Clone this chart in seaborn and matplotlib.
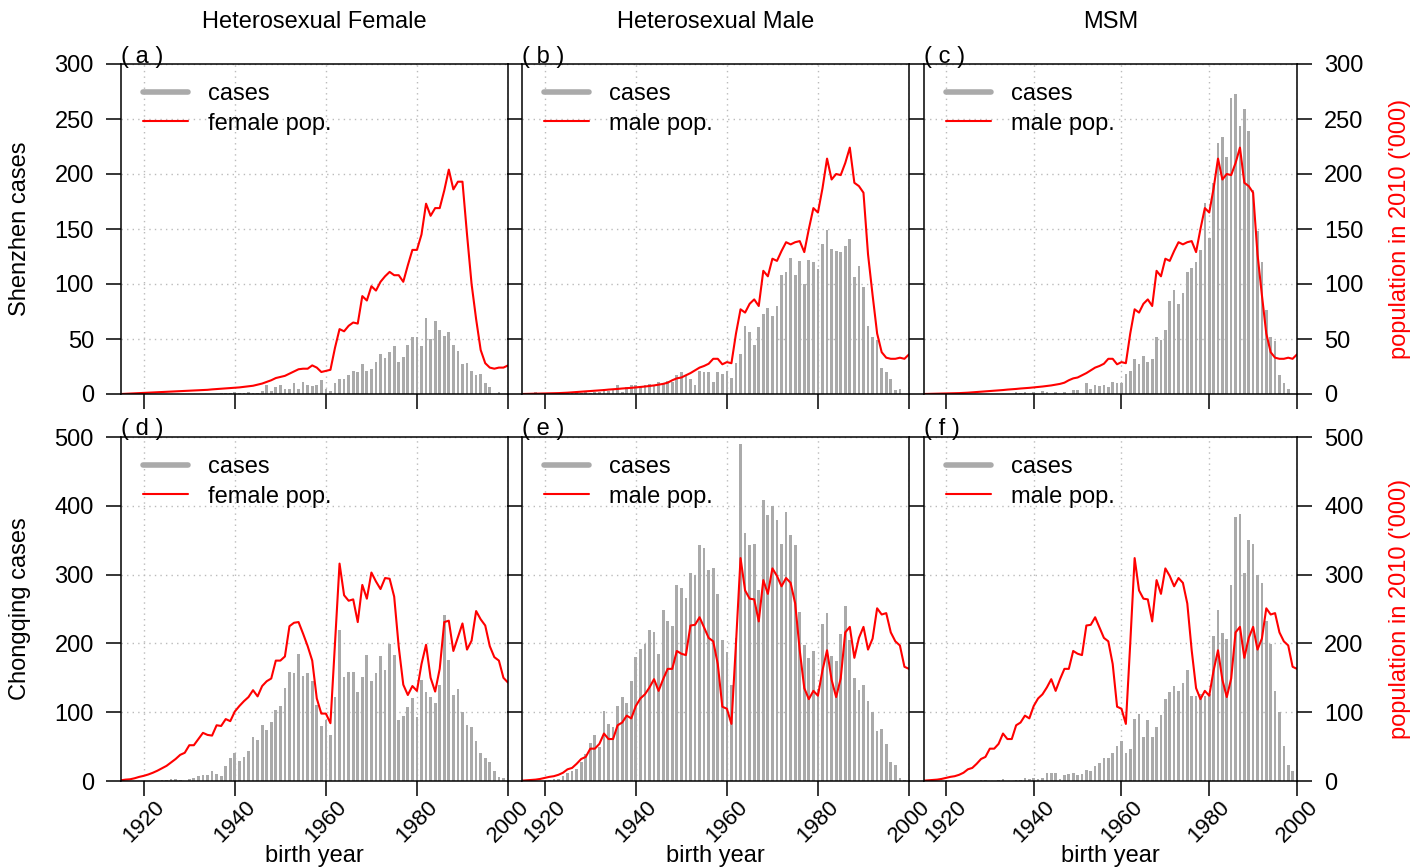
import numpy as np
import pandas as pd
import matplotlib
matplotlib.use("Agg")
import matplotlib.pyplot as plt
import seaborn as sns
from matplotlib.lines import Line2D

# ---------------- data ----------------
years = list(range(1915, 2001))

sz_female_pop = [0.0, 0.2, 0.4, 0.6, 0.8,
                 1.0, 1.2, 1.4, 1.6, 1.8, 2.0, 2.2, 2.4, 2.6, 2.8,
                 3.0, 3.2, 3.4, 3.6, 3.8, 4.2, 4.5, 4.8, 5.1, 5.4,
                 5.7, 6.0, 6.5, 7.0, 7.5, 8.5, 9.5, 11, 12.5, 14.5,
                 15.5, 16.5, 18.5, 20.5, 22.5, 23, 23, 26, 24, 20,
                 21, 22, 42, 59, 57, 62, 65, 64, 89, 85,
                 98, 94, 102, 107, 111, 108, 108, 102, 117, 131,
                 131, 145, 173, 162, 169, 169, 185, 204, 186, 193,
                 193, 145, 100, 68, 40, 28, 24, 23, 24, 24,
                 26]

sz_male_pop = [0.0, 0.1, 0.2, 0.3, 0.4,
               0.5, 0.6, 0.7, 0.8, 1.0, 1.2, 1.5, 1.8, 2.1, 2.4,
               2.7, 3.0, 3.3, 3.6, 4.0, 4.3, 4.6, 5.0, 5.3, 5.6,
               6.0, 6.4, 6.8, 7.3, 7.8, 8.5, 9.2, 10.3, 12.5, 14.2,
               15, 17, 19, 21.5, 24, 25.5, 27.5, 32, 32, 27,
               29, 28, 55, 77, 74, 82, 86, 80, 112, 107,
               123, 121, 130, 138, 136, 138, 139, 129, 150, 169,
               165, 187, 214, 195, 200, 199, 210, 224, 192, 189,
               183, 127, 90, 55, 38, 33, 32, 32, 33, 32,
               36]

cq_female_pop = [1, 2, 2.5, 4, 6,
                 7.5, 9.5, 12, 15, 18.5, 22, 27, 32, 38, 41,
                 52, 52, 61, 70, 67, 66, 81, 80, 90, 87,
                 101, 109, 116, 122, 132, 123, 138, 145, 149, 175,
                 175, 181, 225, 230, 231, 214, 196, 175, 120, 98,
                 98, 84, 200, 316, 270, 262, 264, 231, 285, 265,
                 303, 290, 279, 295, 294, 268, 195, 140, 125, 138,
                 131, 170, 198, 150, 130, 163, 231, 233, 189, 209,
                 229, 191, 204, 247, 235, 226, 196, 180, 175, 150,
                 143]

cq_male_pop = [0.5, 1, 1.5, 2, 3,
               4.5, 6, 7, 9, 12, 17, 19, 25, 32, 35,
               47, 47, 54, 69, 61, 61, 81, 85, 95, 91,
               109, 120, 126, 136, 148, 131, 148, 163, 163, 189,
               185, 183, 226, 227, 238, 223, 208, 203, 170, 108,
               105, 83, 200, 324, 277, 265, 264, 232, 292, 272,
               309, 298, 283, 295, 288, 258, 190, 135, 119, 131,
               124, 161, 190, 147, 122, 149, 216, 224, 179, 208,
               224, 191, 207, 251, 242, 244, 216, 203, 197, 166,
               163]

sz_het_female_cases = [0, 0, 0, 0, 0,
                       0, 0, 0, 0, 0, 0, 0, 0, 0, 0,
                       0, 0, 0, 0, 0, 0, 0, 1, 1, 1,
                       2, 1, 1, 2, 1, 1, 3, 8, 3, 6,
                       8, 5, 5, 10, 5, 11, 8, 7, 8, 13,
                       5, 3, 10, 14, 14, 17, 21, 20, 27, 21,
                       23, 29, 36, 33, 38, 44, 29, 34, 45, 52,
                       52, 44, 69, 50, 66, 58, 53, 56, 45, 39,
                       27, 28, 21, 17, 18, 10, 6, 0, 2, 0,
                       0]

sz_het_male_cases = [0, 0, 0, 2, 0,
                     1, 0, 0, 0, 0, 1, 1, 1, 1, 2,
                     1, 2, 2, 4.5, 3, 5, 8, 2, 6, 8.5,
                     8, 7, 8, 9, 8, 10.6, 9, 12, 11, 17,
                     20, 17, 13.6, 8, 21, 20, 20, 10.6, 20, 18,
                     21, 15, 28, 36, 62, 56, 45, 61, 73, 78,
                     71, 80, 108, 111, 124, 108, 121, 100, 122, 120,
                     114, 136, 149, 132, 130, 129, 135, 141, 106, 116,
                     97, 62, 52, 49, 24, 20, 14, 4, 5, 0,
                     0]

sz_msm_cases = [0, 0, 0, 0, 0,
                0, 0, 0, 0, 0, 0, 0, 0, 0, 0,
                0, 0, 0, 0, 0, 0, 1.5, 1, 1.5, 0,
                1.5, 0, 2.4, 1.5, 0, 1.5, 0, 2, 0, 4,
                4, 0, 10, 5, 8, 7, 8, 6, 11, 10,
                10, 18, 21, 32, 27, 35, 29, 32, 52, 49,
                58, 85, 95, 82, 92, 111, 115, 120, 131, 174,
                142, 192, 228, 234, 215, 269, 273, 244, 259, 239,
                185, 148, 120, 76, 52, 48, 17, 10, 5, 0,
                0]

cq_het_female_cases = [0, 0, 0, 0, 0,
                       0, 0, 0, 0, 1, 1.5, 2.4, 2.4, 1, 0,
                       2.4, 5, 7, 8, 8, 15, 10, 7, 22, 33,
                       40, 29, 35, 44, 64, 59, 81, 74, 86, 103,
                       109, 135, 158, 157, 184, 153, 157, 145, 111, 80,
                       88, 67, 122, 220, 151, 158, 159, 129, 151, 183,
                       146, 157, 181, 161, 199, 183, 88, 95, 108, 120,
                       93, 147, 129, 122, 113, 139, 241, 176, 125, 134,
                       100, 81, 78, 58, 41, 34, 27, 15, 6, 5,
                       0]

cq_het_male_cases = [0, 0, 0, 0, 0,
                     0, 1, 2.4, 3.4, 7, 12, 15, 18, 27, 39,
                     55, 67, 50, 102, 83, 78, 109, 122, 114, 145,
                     180, 192, 199, 220, 216, 184, 249, 233, 226, 285,
                     281, 266, 303, 299, 343, 338, 306, 310, 272, 205,
                     187, 140, 208, 490, 360, 343, 345, 278, 409, 386,
                     399, 379, 345, 391, 357, 343, 246, 197, 179, 189,
                     134, 228, 244, 181, 175, 213, 254, 205, 150, 132,
                     139, 117, 100, 73, 75, 54, 27, 23, 5, 1,
                     0]

cq_msm_cases = [0, 0, 0, 0, 0,
                0, 0, 0, 0, 0, 0, 0, 0, 1, 1,
                0, 0, 1.5, 2.4, 0, 0, 1, 1, 5, 2.4,
                5, 3.4, 5, 12, 11, 11, 3.4, 9, 10, 11,
                8, 10, 16, 15, 22, 26, 34, 34, 41, 51,
                58, 40, 46, 90, 98, 64, 88, 64, 79, 96,
                119, 129, 138, 131, 143, 161, 124, 124, 126, 124,
                126, 211, 248, 215, 207, 285, 383, 388, 302, 350,
                344, 300, 288, 233, 199, 131, 100, 51, 23, 14,
                0]

col_titles = ["Heterosexual Female", "Heterosexual Male", "MSM"]
row_labels = ["Shenzhen cases", "Chongqing cases"]
right_label = "population in 2010 ('000)"
panel_tags = [["( a )", "( b )", "( c )"], ["( d )", "( e )", "( f )"]]
pop_labels = ["female pop.", "male pop.", "male pop."]
cases_grid = [[sz_het_female_cases, sz_het_male_cases, sz_msm_cases],
              [cq_het_female_cases, cq_het_male_cases, cq_msm_cases]]
pop_grid = [[sz_female_pop, sz_male_pop, sz_male_pop],
            [cq_female_pop, cq_male_pop, cq_male_pop]]
y_max = [300, 500]
y_step = [50, 100]
x_ticks = [1920, 1940, 1960, 1980, 2000]

# ---------------- style ----------------
sns.set_theme(style="white")
plt.rcParams["font.family"] = ["Liberation Sans", "DejaVu Sans"]
plt.rcParams["font.size"] = 17
plt.rcParams["text.color"] = "black"
plt.rcParams["axes.labelcolor"] = "black"
plt.rcParams["xtick.color"] = "black"
plt.rcParams["ytick.color"] = "black"

BAR = "#AAAAAA"
FS = 17
FS_X = 16

W, H = 1424, 867
fig = plt.figure(figsize=(W / 100, H / 100), dpi=100)
fig.patch.set_facecolor("white")

cols_px = [(121, 508), (522, 909), (924, 1297)]
rows_px = [(64, 394), (437, 781)]


def add_px_axes(x0, y0, x1, y1):
    return fig.add_axes([x0 / W, 1 - y1 / H, (x1 - x0) / W, (y1 - y0) / H])


for r in range(2):
    for c in range(3):
        x0, x1 = cols_px[c]
        y0, y1 = rows_px[r]
        ax = add_px_axes(x0, y0, x1, y1)
        df = pd.DataFrame({"year": years, "cases": cases_grid[r][c],
                           "pop": pop_grid[r][c]})
        sns.barplot(data=df, x="year", y="cases", native_scale=True,
                    color=BAR, saturation=1, width=0.6, errorbar=None,
                    linewidth=0, ax=ax, zorder=2)
        sns.lineplot(data=df, x="year", y="pop", color="red", lw=1.5,
                     ax=ax, zorder=3)
        ax.set_xlim(1915, 2000)
        ax.set_ylim(0, y_max[r])
        ax.set_xticks(x_ticks)
        ax.set_yticks(np.arange(0, y_max[r] + 1, y_step[r]))
        ax.set_xlabel("")
        ax.set_ylabel("")
        ax.set_axisbelow(True)
        ax.grid(True, linestyle=(0, (1, 3)), color="#BBBBBB", lw=1.0)
        for s in ax.spines.values():
            s.set_visible(True)
            s.set_color("black")
            s.set_linewidth(1.1)
            s.set_zorder(5)
        ax.tick_params(axis="both", direction="out", length=10.5, width=1.1,
                       color="black", labelsize=FS, pad=9, labelcolor="black")
        ax.tick_params(axis="x", bottom=True, top=False,
                       labelbottom=(r == 1), labelsize=FS_X, pad=0.5)
        if c == 0:
            ax.tick_params(axis="y", left=True, right=False,
                           labelleft=True, labelright=False)
        elif c == 1:
            ax.tick_params(axis="y", left=True, right=False,
                           labelleft=False, labelright=False)
        else:
            ax.tick_params(axis="y", left=True, right=True,
                           labelleft=False, labelright=True)
        if r == 1:
            for lab in ax.get_xticklabels():
                lab.set_rotation(45)
                lab.set_ha("center")
                lab.set_va("top")
        # legend
        handles = [Line2D([], [], color=BAR, lw=4.0),
                   Line2D([], [], color="red", lw=1.5)]
        wpx = x1 - x0
        hpx = y1 - y0
        ax.legend(handles, ["cases", pop_labels[c]], loc="upper left",
                  bbox_to_anchor=(13 / wpx, 1 - 10 / hpx), frameon=False,
                  handlelength=1.9, handletextpad=0.85, labelspacing=0.3,
                  borderaxespad=0, fontsize=FS)
        # panel tag
        ax.text(0, 1 + 1.5 / hpx, panel_tags[r][c], transform=ax.transAxes,
                ha="left", va="baseline", fontsize=FS)
        if r == 1:
            fig.text((x0 + x1) / 2 / W, 1 - 862 / H, "birth year",
                     ha="center", va="baseline", fontsize=FS)
        if r == 0:
            fig.text((x0 + x1) / 2 / W, 1 - 22 / H, col_titles[c],
                     ha="center", va="center", fontsize=FS)
    yc = (rows_px[r][0] + rows_px[r][1]) / 2
    fig.text(20 / W, 1 - yc / H, row_labels[r], rotation=90,
             ha="center", va="center", fontsize=FS)
    fig.text(1400 / W, 1 - yc / H, right_label, rotation=90, color="red",
             ha="center", va="center", fontsize=FS)

fig.savefig("out.png", dpi=100, facecolor="white")
